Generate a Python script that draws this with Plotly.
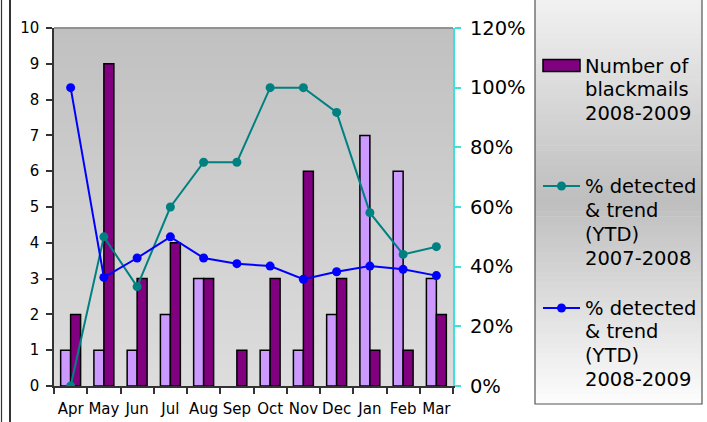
import plotly.graph_objects as go

# ---- data -------------------------------------------------------------
months = ["Apr", "May", "Jun", "Jul", "Aug", "Sep",
          "Oct", "Nov", "Dec", "Jan", "Feb", "Mar"]
blackmails_0708 = [1, 1, 1, 2, 3, 0, 1, 1, 2, 7, 6, 3]
blackmails_0809 = [2, 9, 3, 4, 3, 1, 3, 6, 3, 1, 1, 2]
detected_0708 = [0.0, 0.50, 0.333, 0.60, 0.75, 0.75,
                 1.00, 1.00, 0.917, 0.581, 0.441, 0.467]
detected_0809 = [1.00, 0.364, 0.429, 0.50, 0.429, 0.410,
                 0.402, 0.358, 0.383, 0.402, 0.391, 0.370]
left_ticks = list(range(0, 11))
right_ticks = [0, 0.2, 0.4, 0.6, 0.8, 1.0, 1.2]

legend_labels = [["Number of", "blackmails", "2008-2009"],
                 ["% detected", "& trend", "(YTD)", "2007-2008"],
                 ["% detected", "& trend", "(YTD)", "2008-2009"]]

# ---- styling ----------------------------------------------------------
W, H = 707, 422
L, R, T, B = 54, 453, 28, 386          # plot area in pixels
FONT = "DejaVu Sans"
DARK_PURPLE = "#800080"
LIGHT_PURPLE = "#cc99ff"
TEAL = "#008080"
BLUE = "#0000ff"
CYAN = "#40dede"


def px_x(p):
    return (p - L) / (R - L)


def px_y(p):
    return (B - p) / (B - T)


def mix(c1, c2, t):
    return "rgb(%d,%d,%d)" % tuple(round(a + (b - a) * t) for a, b in zip(c1, c2))


def outline_widths(values, w=1.5):
    # empty bars get no outline
    return [w if v else 0 for v in values]


fig = go.Figure()

fig.add_trace(go.Bar(
    x=months, y=blackmails_0708, name="Number of blackmails 2007-2008",
    marker=dict(color=LIGHT_PURPLE,
                line=dict(color="black", width=outline_widths(blackmails_0708))),
    showlegend=False))
fig.add_trace(go.Bar(
    x=months, y=blackmails_0809, name="Number of blackmails 2008-2009",
    marker=dict(color=DARK_PURPLE,
                line=dict(color="black", width=outline_widths(blackmails_0809))),
    showlegend=False))
fig.add_trace(go.Scatter(
    x=months, y=detected_0708, yaxis="y2", mode="lines+markers",
    name="% detected & trend (YTD) 2007-2008",
    line=dict(color=TEAL, width=2), marker=dict(color=TEAL, size=9),
    showlegend=False))
fig.add_trace(go.Scatter(
    x=months, y=detected_0809, yaxis="y2", mode="lines+markers",
    name="% detected & trend (YTD) 2008-2009",
    line=dict(color=BLUE, width=2), marker=dict(color=BLUE, size=9),
    showlegend=False))

shapes = []

# plot-area background: vertical gradient, darker at the top
n = 60
top_c, bot_c = (192, 192, 192), (221, 221, 221)
for i in range(n):
    shapes.append(dict(
        type="rect", xref="x domain", yref="y domain", layer="below",
        x0=0, x1=1, y0=1 - (i + 1) / n, y1=1 - i / n + 0.002,
        fillcolor=mix(top_c, bot_c, (i + 0.5) / n), line=dict(width=0)))

# top border of the plot area
shapes.append(dict(type="line", xref="paper", yref="paper",
                   x0=0, x1=1, y0=1, y1=1,
                   line=dict(color="#808080", width=1.5)))

# legend box with a light-dark-light gradient
lx0, lx1, ly0, ly1 = 535, 702, -2, 404
m = 80
c_top, c_mid, c_bot = (242, 242, 242), (190, 190, 190), (253, 253, 253)
for i in range(m):
    t = (i + 0.5) / m
    if t < 0.5:
        col = mix(c_top, c_mid, t / 0.5)
    else:
        col = mix(c_mid, c_bot, (t - 0.5) / 0.5)
    ya = ly0 + (ly1 - ly0) * i / m
    yb = ly0 + (ly1 - ly0) * (i + 1) / m + 0.6
    shapes.append(dict(type="rect", xref="paper", yref="paper",
                       x0=px_x(lx0), x1=px_x(lx1), y0=px_y(yb), y1=px_y(ya),
                       fillcolor=col, line=dict(width=0)))
shapes.append(dict(type="rect", xref="paper", yref="paper",
                   x0=px_x(lx0), x1=px_x(lx1), y0=px_y(ly1), y1=px_y(ly0),
                   line=dict(color="#555555", width=1.2)))

# legend symbols
ix0, ix1 = 543, 580
shapes.append(dict(type="rect", xref="paper", yref="paper",
                   x0=px_x(ix0), x1=px_x(ix1), y0=px_y(71.5), y1=px_y(59.5),
                   fillcolor=DARK_PURPLE, line=dict(color="black", width=1.5)))
for col, yc in [(TEAL, 186), (BLUE, 308)]:
    shapes.append(dict(type="line", xref="paper", yref="paper",
                       x0=px_x(ix0), x1=px_x(ix1), y0=px_y(yc), y1=px_y(yc),
                       line=dict(color=col, width=2)))
    xc = (ix0 + ix1) / 2
    shapes.append(dict(type="circle", xref="paper", yref="paper",
                       x0=px_x(xc - 4.5), x1=px_x(xc + 4.5),
                       y0=px_y(yc + 4.5), y1=px_y(yc - 4.5),
                       fillcolor=col, line=dict(width=0)))

# double frame line on the left edge
for xp, w in [(1.5, 1.2), (10, 2)]:
    shapes.append(dict(type="line", xref="paper", yref="paper",
                       x0=px_x(xp), x1=px_x(xp), y0=px_y(-2), y1=px_y(424),
                       line=dict(color="#333333", width=w)))

# legend text, one annotation per line
annotations = []
first_line_y = [66, 187, 308]
line_step = 23.8
for lines, y0 in zip(legend_labels, first_line_y):
    for k, line in enumerate(lines):
        annotations.append(dict(
            text=line, xref="paper", yref="paper",
            x=px_x(583), y=px_y(y0 + k * line_step),
            xanchor="left", yanchor="middle", align="left", showarrow=False,
            font=dict(family=FONT, size=19.5, color="black")))

fig.update_layout(
    width=W, height=H,
    margin=dict(l=L, r=W - R, t=T, b=H - B, pad=0),
    paper_bgcolor="white", plot_bgcolor="#d0d0d0",
    barmode="group", bargap=0.4, bargroupgap=0,
    showlegend=False,
    font=dict(family=FONT, size=15, color="black"),
    xaxis=dict(
        type="category", range=[-0.5, len(months) - 0.5],
        showgrid=False, ticks="outside", tickson="boundaries",
        ticklen=6, tickcolor="#333333", tickwidth=1.5, tickangle=0,
        automargin=False, ticklabelstandoff=8,
        showline=True, linecolor="#333333", linewidth=1.5,
        tickfont=dict(family=FONT, size=15)),
    yaxis=dict(
        range=[0, 10], tickvals=left_ticks, showgrid=False, zeroline=False,
        ticks="outside", ticklen=6, tickcolor="#333333", tickwidth=1.5,
        automargin=False, ticklabelstandoff=4,
        showline=True, linecolor="#333333", linewidth=1.5,
        tickfont=dict(family=FONT, size=15)),
    yaxis2=dict(
        overlaying="y", side="right", range=[0, 1.2], tickvals=right_ticks,
        tickformat=".0%", showgrid=False, zeroline=False,
        ticks="outside", ticklen=6, tickcolor=CYAN, tickwidth=1.5,
        automargin=False, ticklabelstandoff=5,
        showline=True, linecolor=CYAN, linewidth=2,
        tickfont=dict(family=FONT, size=19.5)),
    shapes=shapes, annotations=annotations,
)

fig.write_html("out.html")
